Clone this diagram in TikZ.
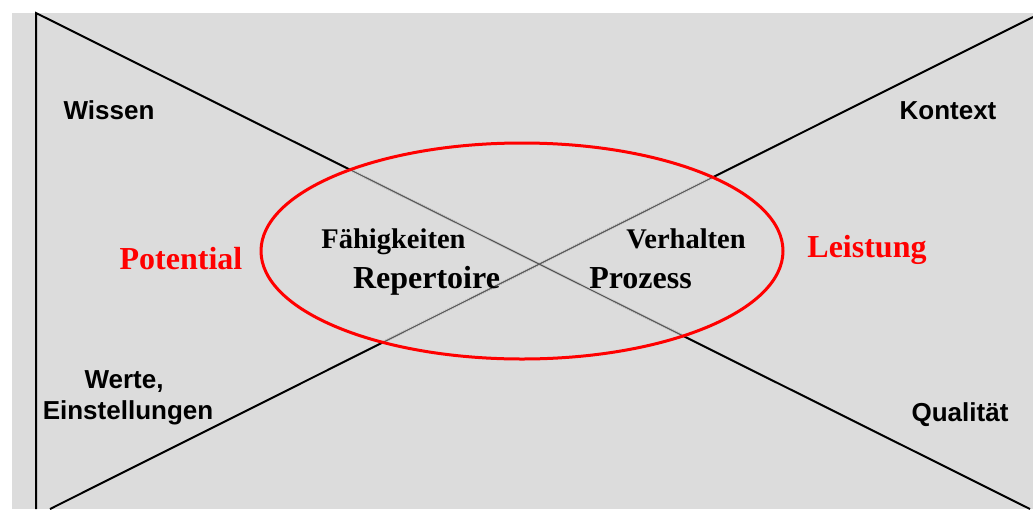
\documentclass[tikz,border=0pt]{standalone}
\usepackage{fontspec}
\usetikzlibrary{shapes.geometric}
\newfontfamily\sansfnt{Liberation Sans}
\newfontfamily\seriffnt{Liberation Serif}
\definecolor{bggray}{HTML}{DCDCDC}
\definecolor{redline}{HTML}{FF0000}
\tikzset{
  sanslabel/.style={anchor=base, inner sep=0pt, font=\sansfnt\bfseries\fontsize{26}{31}\selectfont, text=black},
  redlabel/.style={anchor=base, inner sep=0pt, font=\seriffnt\bfseries\fontsize{32}{38}\selectfont, text=redline},
  smalllabel/.style={anchor=base, inner sep=0pt, font=\seriffnt\bfseries\fontsize{28.5}{34}\selectfont, text=black},
  biglabel/.style={anchor=base, inner sep=0pt, font=\seriffnt\bfseries\fontsize{32}{38}\selectfont, text=black},
  frameline/.style={draw=black, line width=2pt},
  innerline/.style={draw=black!65, line width=1.2pt},
  ringstyle/.style={draw=redline, line width=3pt},
}
\begin{document}
\begin{tikzpicture}[x=1pt,y=-1pt]
\useasboundingbox (0,0) rectangle (1033,509);
\fill[bggray] (12,13) rectangle (1033,509);
% corner coordinates
\coordinate (tl) at (36,13);
\coordinate (bl) at (36,509);
\coordinate (br) at (1030,509);
\coordinate (bl2) at (50,509);
\coordinate (tr) at (1033,17);
% frame lines
\draw[frameline] (bl) -- (tl) -- (br);
\draw[frameline] (bl2) -- (tr);
% lighter inner part of the lines
\begin{scope}
  \clip (522,251) ellipse [x radius=261, y radius=108];
  \draw[draw=bggray, line width=2.6pt] (tl) -- (br) (bl2) -- (tr);
  \draw[innerline] (tl) -- (br) (bl2) -- (tr);
\end{scope}
% ellipse
\node[ringstyle, ellipse, minimum width=522pt, minimum height=216pt, inner sep=0pt] (ring) at (522,251) {};
% texts
\node[sanslabel] (wissen) at (109,119) {Wissen};
\node[sanslabel] (kontext) at (948,119) {Kontext};
\node[sanslabel] (werte) at (124,388) {Werte,};
\node[sanslabel] (einst) at (128,419) {Einstellungen};
\node[sanslabel] (qual) at (960,421) {Qualität};
\node[redlabel] (pot) at (181,269) {Potential};
\node[redlabel] (leist) at (867,257) {Leistung};
\node[smalllabel] (faeh) at (393.5,248) {Fähigkeiten};
\node[smalllabel] (verh) at (686,248) {Verhalten};
\node[biglabel] (rep) at (426.5,288) {Repertoire};
\node[biglabel] (proz) at (640.5,288) {Prozess};
\end{tikzpicture}
\end{document}
